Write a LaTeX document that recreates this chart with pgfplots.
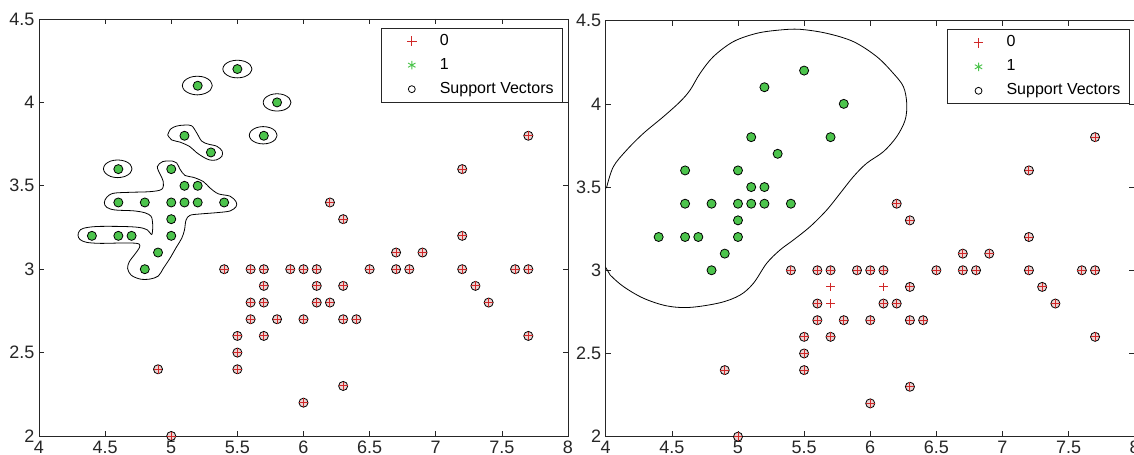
\documentclass[border=0pt]{standalone}
\usepackage{fontspec}
\setmainfont{Liberation Sans}
\usepackage{pgfplots}
\pgfplotsset{compat=1.18}
\usepackage{pgfplotstable}

\definecolor{clsr}{HTML}{D02828}
\definecolor{clsg}{HTML}{4CC44C}
\definecolor{svpink}{HTML}{EDD3D3}
\definecolor{axgrey}{HTML}{262626}

% class 1 (green), all are support vectors in both panels
\pgfplotstableread{
x y
5.5 4.2
5.2 4.1
5.8 4.0
5.1 3.8
5.7 3.8
5.3 3.7
4.6 3.6
5.0 3.6
5.1 3.5
5.2 3.5
4.6 3.4
4.8 3.4
5.0 3.4
5.1 3.4
5.2 3.4
5.4 3.4
5.0 3.3
4.4 3.2
4.6 3.2
4.7 3.2
5.0 3.2
4.9 3.1
4.8 3.0
}\greenpts

% class 0 (red), support vectors in both panels
\pgfplotstableread{
x y
5.4 3.0
5.6 3.0
5.7 3.0
5.9 3.0
6.0 3.0
6.1 3.0
6.5 3.0
6.7 3.0
6.8 3.0
7.2 3.0
7.6 3.0
7.7 3.0
6.3 2.9
7.3 2.9
5.6 2.8
6.1 2.8
6.2 2.8
7.4 2.8
5.6 2.7
5.8 2.7
6.0 2.7
6.3 2.7
6.4 2.7
5.5 2.6
5.7 2.6
7.7 2.6
5.5 2.5
5.5 2.4
4.9 2.4
6.3 2.3
6.0 2.2
5.0 2.0
6.2 3.4
6.3 3.3
7.2 3.2
7.2 3.6
7.7 3.8
6.7 3.1
6.9 3.1
}\redsv

% class 0, support vectors only in the left panel
\pgfplotstableread{
x y
5.7 2.9
5.7 2.8
6.1 2.9
}\redplain

\pgfplotsset{
  svmpanel/.style={
    scale only axis, width=396.75pt, height=312.75pt,
    xmin=4, xmax=8, ymin=2, ymax=4.5,
    xtick={4,4.5,5,5.5,6,6.5,7,7.5,8},
    ytick={2,2.5,3,3.5,4,4.5},
    tick align=inside, major tick length=4pt,
    axis line style={line width=0.6pt, axgrey},
    tick style={line width=0.5pt, axgrey},
    ticklabel style={font=\fontsize{13.5}{15}\selectfont, text=axgrey},
    /pgf/number format/assume math mode=true,
    legend cell align=left,
    legend style={at={(0.99,0.979)}, anchor=north east, draw=axgrey,
      line width=0.6pt, font=\fontsize{12}{14}\selectfont,
      inner xsep=4.5pt, inner ysep=2.25pt, row sep=3pt,
      nodes={inner xsep=2pt, inner ysep=1.5pt, text height=9pt, text depth=3pt},
      /tikz/every odd column/.append style={column sep=13pt}},
  },
  legmark/.style={legend image code/.code={%
    \path[draw=none, fill=none] (-18.5pt,0pt) -- (6pt,0pt);
    \draw[##1] plot[only marks] coordinates {(0pt,0pt)};}},
  contour/.style={black, line width=0.6pt, smooth, tension=0.55, no markers},
  svred/.style={only marks, mark=*, mark size=3.4pt,
    mark options={fill=svpink, draw=black, line width=0.6pt}},
  svgreen/.style={only marks, mark=*, mark size=3.4pt,
    mark options={fill=clsg, draw=black, line width=0.6pt}},
  redplus/.style={only marks, mark=+, mark size=3.3pt,
    mark options={draw=clsr, line width=0.7pt}},
}

\begin{document}
\begin{tikzpicture}
% left panel: narrow kernel
\begin{axis}[svmpanel, at={(29.25pt,13.5pt)}, anchor=south west]
\addplot[contour, forget plot] coordinates {(5.610,4.200) (5.595,4.227) (5.555,4.246) (5.500,4.253) (5.445,4.246) (5.405,4.227) (5.390,4.200) (5.405,4.174) (5.445,4.154) (5.500,4.147) (5.555,4.154) (5.595,4.174) (5.610,4.200)};
\addplot[contour, forget plot] coordinates {(5.310,4.101) (5.295,4.129) (5.254,4.150) (5.197,4.157) (5.141,4.150) (5.099,4.129) (5.084,4.101) (5.099,4.073) (5.141,4.053) (5.197,4.045) (5.254,4.053) (5.295,4.073) (5.310,4.101)};
\addplot[contour, forget plot] coordinates {(5.905,4.000) (5.891,4.026) (5.853,4.045) (5.800,4.052) (5.748,4.045) (5.709,4.026) (5.695,4.000) (5.709,3.974) (5.748,3.955) (5.800,3.948) (5.853,3.955) (5.891,3.974) (5.905,4.000)};
\addplot[contour, forget plot] coordinates {(5.800,3.803) (5.786,3.829) (5.748,3.848) (5.695,3.855) (5.643,3.848) (5.604,3.829) (5.590,3.803) (5.604,3.777) (5.643,3.758) (5.695,3.751) (5.748,3.758) (5.786,3.777) (5.800,3.803)};
\addplot[contour, forget plot] coordinates {(4.703,3.602) (4.689,3.629) (4.649,3.648) (4.595,3.655) (4.541,3.648) (4.502,3.629) (4.487,3.602) (4.502,3.576) (4.541,3.556) (4.595,3.549) (4.649,3.556) (4.689,3.576) (4.703,3.602)};
\addplot[contour, forget plot] coordinates {(4.973,3.805) (4.995,3.840) (5.040,3.858) (5.100,3.864) (5.154,3.860) (5.192,3.818) (5.230,3.768) (5.280,3.750) (5.345,3.737) (5.385,3.708) (5.382,3.676) (5.340,3.655) (5.290,3.655) (5.243,3.672) (5.190,3.700) (5.140,3.735) (5.066,3.762) (5.003,3.775) (4.973,3.805)};
\addplot[contour, forget plot] coordinates {(5.003,3.649) (5.041,3.637) (5.066,3.600) (5.104,3.562) (5.167,3.551) (5.243,3.525) (5.293,3.487) (5.356,3.452) (5.444,3.438) (5.490,3.405) (5.490,3.375) (5.444,3.349) (5.344,3.339) (5.217,3.331) (5.142,3.323) (5.112,3.295) (5.100,3.235) (5.079,3.185) (5.041,3.135) (4.990,3.065) (4.940,3.005) (4.902,2.959) (4.839,2.941) (4.764,2.941) (4.696,2.965) (4.670,3.005) (4.683,3.045) (4.726,3.091) (4.760,3.130) (4.755,3.152) (4.700,3.157) (4.612,3.157) (4.461,3.155) (4.360,3.161) (4.310,3.178) (4.295,3.203) (4.305,3.228) (4.335,3.245) (4.436,3.256) (4.638,3.256) (4.760,3.250) (4.820,3.235) (4.852,3.208) (4.860,3.250) (4.857,3.290) (4.847,3.318) (4.802,3.338) (4.714,3.350) (4.575,3.355) (4.512,3.371) (4.494,3.399) (4.512,3.431) (4.562,3.455) (4.688,3.461) (4.840,3.465) (4.928,3.479) (4.940,3.525) (4.915,3.570) (4.895,3.615) (4.935,3.645) (5.003,3.649)};
\addplot[svred, forget plot] table {\redsv};
\addplot[svred, forget plot] table {\redplain};
\addplot[svgreen, forget plot] table {\greenpts};
\addplot[redplus, forget plot] table {\redsv};
\addplot[redplus, forget plot] table {\redplain};
\addlegendimage{only marks, mark=+, mark size=3.6pt, clsr, line width=0.7pt, legmark}
\addlegendimage{only marks, mark=asterisk, mark size=3.2pt, clsg, line width=0.7pt, legmark}
\addlegendimage{only marks, mark=o, mark size=2.6pt, black, line width=0.6pt, legmark}
\legend{0,1,Support Vectors}
\end{axis}

% right panel: wide kernel
\begin{axis}[svmpanel, at={(454.3pt,13.0pt)}, anchor=south west, height=312pt]
\addplot[contour, forget plot] coordinates {(4.008,3.502) (4.058,3.623) (4.159,3.723) (4.285,3.823) (4.436,3.923) (4.562,4.013) (4.638,4.083) (4.713,4.183) (4.814,4.284) (4.965,4.374) (5.142,4.424) (5.318,4.444) (5.469,4.448) (5.671,4.424) (5.873,4.374) (6.049,4.284) (6.175,4.183) (6.251,4.103) (6.276,4.003) (6.264,3.903) (6.200,3.803) (6.100,3.713) (5.973,3.643) (5.873,3.563) (5.772,3.462) (5.671,3.362) (5.545,3.262) (5.419,3.182) (5.318,3.122) (5.217,3.042) (5.117,2.922) (5.016,2.851) (4.865,2.805) (4.638,2.777) (4.461,2.786) (4.285,2.832) (4.134,2.902) (4.033,2.972) (4.008,3.006) (3.950,3.100) (3.930,3.300) (3.950,3.420) (4.008,3.502)};
\addplot[svred, forget plot] table {\redsv};
\addplot[svgreen, forget plot] table {\greenpts};
\addplot[redplus, forget plot] table {\redsv};
\addplot[redplus, forget plot] table {\redplain};
\addlegendimage{only marks, mark=+, mark size=3.6pt, clsr, line width=0.7pt, legmark}
\addlegendimage{only marks, mark=asterisk, mark size=3.2pt, clsg, line width=0.7pt, legmark}
\addlegendimage{only marks, mark=o, mark size=2.6pt, black, line width=0.6pt, legmark}
\legend{0,1,Support Vectors}
\end{axis}

\pgfresetboundingbox
\path[use as bounding box] (0pt,0pt) rectangle (850.5pt,340.5pt);
\end{tikzpicture}
\end{document}
